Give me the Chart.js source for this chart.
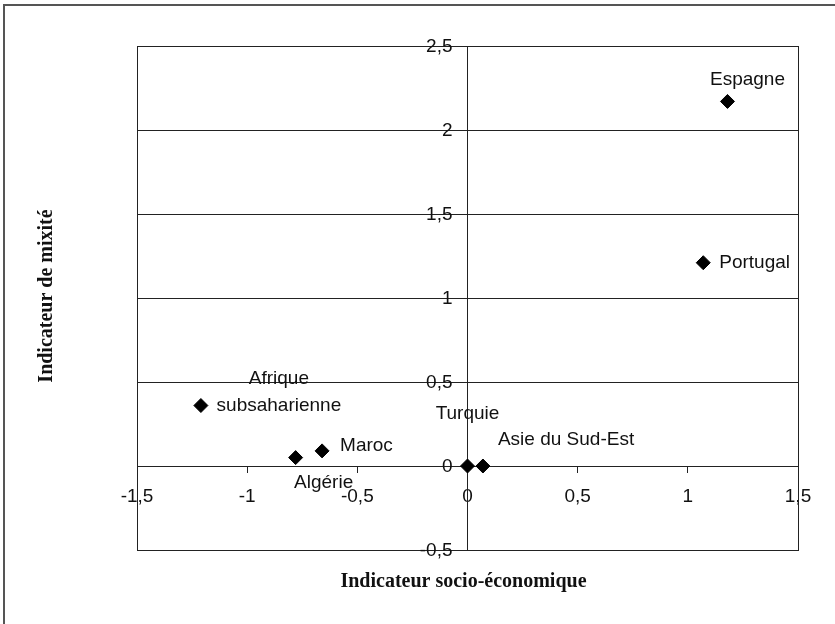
<!DOCTYPE html>
<html>
<head>
<meta charset="utf-8">
<script src="https://cdn.jsdelivr.net/npm/chart.js@4.4.1/dist/chart.umd.min.js"></script>
<style>
  body { margin: 0; background: #fff; }
  #wrap { width: 835px; height: 624px; position: relative; }
</style>
</head>
<body>
<div id="wrap"><canvas id="graph" width="835" height="624"></canvas></div>
<script>
// Groups (labels) and their coordinates
const groupNames = ['Espagne', 'Portugal', ['Afrique', 'subsaharienne'], 'Maroc', 'Algérie', 'Turquie', 'Asie du Sud-Est'];
const socioEco = [1.18, 1.07, -1.21, -0.66, -0.78, 0.0, 0.07];   // x
const mixite   = [2.17, 1.21, 0.36, 0.09, 0.05, 0.0, 0.0];        // y

const xTicks = [-1.5, -1, -0.5, 0, 0.5, 1, 1.5];
const yTicks = [-0.5, 0, 0.5, 1, 1.5, 2, 2.5];

// where each label sits relative to its point: [dx, dy, align]
const labelOffsets = [
    [20, -22, 'center'],
    [16, 0, 'left'],
    [78, 0, 'center'],
    [18, -5, 'left'],
    [28, 25, 'center'],
    [0, -52, 'center'],
    [15, -26, 'left']
];

const fmt = v => String(v).replace('.', ',');
const sansFont = '"Liberation Sans", Arial, sans-serif';
const serifFont = '"Liberation Serif", "Times New Roman", serif';

const decorPlugin = {
    id: 'decor',
    beforeDraw(chart) {
        const c = chart.ctx;
        c.save();
        c.fillStyle = '#fff';
        c.fillRect(0, 0, chart.width, chart.height);
        // outer frame (only top and left edges show)
        c.strokeStyle = '#555';
        c.lineWidth = 2;
        c.beginPath();
        c.moveTo(4, chart.height);
        c.lineTo(4, 5);
        c.lineTo(chart.width, 5);
        c.stroke();
        c.restore();
    },
    afterDraw(chart) {
        const c = chart.ctx;
        const a = chart.chartArea;
        const xs = chart.scales.x, ys = chart.scales.y;
        c.save();
        c.strokeStyle = '#222';
        c.lineWidth = 1;
        c.strokeRect(a.left + 0.5, a.top + 0.5, a.right - a.left, a.bottom - a.top);

        // y tick labels, to the left of the vertical axis (x = 0)
        const axisX = xs.getPixelForValue(0);
        c.fillStyle = '#111';
        c.font = '19px ' + sansFont;
        c.textAlign = 'right';
        c.textBaseline = 'middle';
        ys.ticks.forEach(t => {
            c.fillText(fmt(t.value), axisX - 15, ys.getPixelForValue(t.value) + 1);
        });

        // point labels
        const meta = chart.getDatasetMeta(0);
        meta.data.forEach((pt, i) => {
            const [dx, dy, align] = labelOffsets[i];
            const name = groupNames[i];
            c.textAlign = align;
            if (Array.isArray(name)) {
                c.fillText(name[0], pt.x + dx, pt.y + dy - 27);
                c.fillText(name[1], pt.x + dx, pt.y + dy);
            } else {
                c.fillText(name, pt.x + dx, pt.y + dy);
            }
        });

        // axis titles
        c.font = 'bold 20px ' + serifFont;
        c.textAlign = 'center';
        c.fillText('Indicateur socio-économique', (a.left + a.right) / 2 - 4, 582);
        c.translate(47, (a.top + a.bottom) / 2 - 2);
        c.rotate(-Math.PI / 2);
        c.fillText('Indicateur de mixité', 0, 0);
        c.restore();
    }
};

const canvas = document.getElementById('graph').getContext('2d');
const points = socioEco.map((x, i) => ({ x: x, y: mixite[i] }));

new Chart(canvas, {
    type: 'scatter',
    data: {
        datasets: [{
            data: points,
            backgroundColor: '#000',
            borderColor: '#000',
            pointStyle: 'rectRot',
            pointRadius: 7,
            pointHoverRadius: 7
        }]
    },
    options: {
        responsive: false,
        animation: false,
        layout: { padding: { left: 137, right: 37, top: 46, bottom: 74 } },
        plugins: {
            legend: { display: false },
            tooltip: { enabled: false }
        },
        scales: {
            x: {
                type: 'linear',
                position: { y: 0 },
                min: -1.5,
                max: 1.5,
                afterBuildTicks: s => { s.ticks = xTicks.map(v => ({ value: v })); },
                ticks: {
                    callback: v => fmt(v),
                    color: '#111',
                    font: { family: sansFont, size: 19 },
                    padding: 13,
                    maxRotation: 0,
                    autoSkip: false
                },
                grid: {
                    color: 'transparent',
                    tickColor: '#222',
                    tickLength: 6
                },
                border: { color: '#222', width: 1 }
            },
            y: {
                type: 'linear',
                position: { x: 0 },
                min: -0.5,
                max: 2.5,
                afterBuildTicks: s => { s.ticks = yTicks.map(v => ({ value: v })); },
                ticks: { display: false },
                grid: {
                    color: '#222',
                    lineWidth: 1,
                    drawTicks: false
                },
                border: { color: '#222', width: 1 }
            }
        }
    },
    plugins: [decorPlugin]
});
</script>
</body>
</html>
